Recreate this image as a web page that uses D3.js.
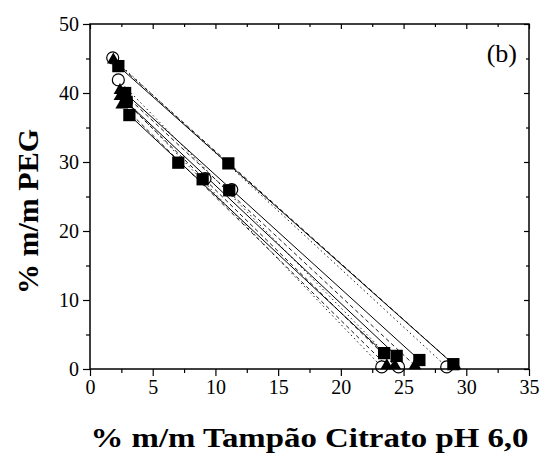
<!DOCTYPE html>
<html><head><meta charset="utf-8">
<script src="https://cdn.jsdelivr.net/npm/d3@7"></script>
<style>body{margin:0;background:#fff}svg{display:block}</style>
</head><body><div id="chart"></div>
<script>
// Tie lines: [top phase, (feed), bottom phase] as [x (% citrate), y (% PEG)]
const squareLines = [
  [[2.26,43.9],[11.03,29.8],[28.97,0.7]],
  [[2.80,40.0],[11.10,25.9],[26.26,1.3]],
  [[2.92,38.7],[8.98,27.5],[24.45,1.9]],
  [[3.14,36.8],[7.04,29.9],[23.45,2.3]]
];
const triangleLines = [
  [[1.86,44.8],[29.10,0.5]],
  [[2.39,40.4],[25.90,0.5]],
  [[2.39,39.5],[24.30,0.5]],
  [[2.53,38.3],[23.66,0.5]]
];
const circleLines = [
  [[1.81,45.1],[28.44,0.3]],
  [[2.26,41.9],[11.30,26.0],[24.60,0.3]],
  [[2.90,38.8],[9.17,27.6],[23.26,0.3]]
];
const xTicks = [0,5,10,15,20,25,30,35];
const yTicks = [0,10,20,30,40,50];
const xTitle = "% m/m Tampão Citrato pH 6,0";
const yTitle = "% m/m PEG";
const panelLabel = "(b)";

const W = 545, H = 456;
const m = {left:90, right:16, top:24, bottom:87};
const svg = d3.select("#chart").append("svg").attr("width",W).attr("height",H);
const x = d3.scaleLinear().domain([0,35]).range([m.left, W-m.right]);
const y = d3.scaleLinear().domain([0,50]).range([H-m.bottom, m.top]);
const font = "Liberation Serif";

const line = d3.line().x(d=>x(d[0])).y(d=>y(d[1]));
function ends(l){ return [l[0], l[l.length-1]]; }

const g = svg.append("g");
g.selectAll(".lc").data(circleLines).join("path").attr("d",d=>line(ends(d)))
  .attr("fill","none").attr("stroke","#000").attr("stroke-width",0.9).attr("stroke-dasharray","1.5,3");
g.selectAll(".lt").data(triangleLines).join("path").attr("d",d=>line(ends(d)))
  .attr("fill","none").attr("stroke","#000").attr("stroke-width",0.9).attr("stroke-dasharray","4,3");
g.selectAll(".ls").data(squareLines).join("path").attr("d",d=>line(ends(d)))
  .attr("fill","none").attr("stroke","#000").attr("stroke-width",1);

const cPts = circleLines.flat(), tPts = triangleLines.flat(), sPts = squareLines.flat();
g.selectAll(".pc").data(cPts).join("circle").attr("cx",d=>x(d[0])).attr("cy",d=>y(d[1]))
  .attr("r",6).attr("fill","#fff").attr("stroke","#000").attr("stroke-width",1.2);
const tri = d3.symbol().type(d3.symbolTriangle).size(70);
g.selectAll(".pt").data(tPts).join("path").attr("d",tri)
  .attr("transform",d=>`translate(${x(d[0])},${y(d[1])})`).attr("fill","#000");
const sq = d3.symbol().type(d3.symbolSquare).size(150);
g.selectAll(".ps").data(sPts).join("path").attr("d",sq)
  .attr("transform",d=>`translate(${x(d[0])},${y(d[1])})`).attr("fill","#000");

const xMinor = d3.range(0,35.01,2.5), yMinor = d3.range(0,50.01,5);
function tickG(axisFn, scale, vals, size, labels, tx, ty){
  const a = axisFn(scale).tickValues(vals).tickSize(size).tickPadding(4);
  if(!labels) a.tickFormat(""); else a.tickFormat(d3.format("d"));
  const gg = svg.append("g").attr("transform",`translate(${tx},${ty})`).call(a);
  gg.select(".domain").remove();
  gg.attr("font-family",font).attr("font-size",20);
  gg.selectAll("line").attr("stroke","#000").attr("stroke-width",1.2);
  gg.selectAll("text").attr("fill","#000").attr("font-family",font).attr("font-size",20);
  return gg;
}
tickG(d3.axisBottom, x, xTicks, 7, true, 0, y(0));
tickG(d3.axisBottom, x, xMinor.filter(v=>v%5), 4, false, 0, y(0));
tickG(d3.axisLeft, y, yTicks, 7, true, x(0), 0);
tickG(d3.axisLeft, y, yMinor.filter(v=>v%10), 4, false, x(0), 0);
tickG(d3.axisBottom, x, xTicks, 5, false, 0, y(50));
tickG(d3.axisBottom, x, xMinor.filter(v=>v%5), 3, false, 0, y(50));
tickG(d3.axisLeft, y, yTicks, 5, false, x(35), 0);
tickG(d3.axisLeft, y, yMinor.filter(v=>v%10), 3, false, x(35), 0);

svg.append("rect").attr("x",x(0)).attr("y",y(50)).attr("width",x(35)-x(0)).attr("height",y(0)-y(50))
  .attr("fill","none").attr("stroke","#000").attr("stroke-width",1.5);

svg.append("text").attr("x",x(35)-12).attr("y",y(50)+38).attr("text-anchor","end")
  .attr("font-family",font).attr("font-size",26).text(panelLabel);
svg.append("text").attr("x",(x(0)+x(35))/2).attr("y",447).attr("text-anchor","middle")
  .attr("font-family",font).attr("font-weight","bold").attr("font-size",28)
  .attr("textLength",438).attr("lengthAdjust","spacingAndGlyphs").text(xTitle);
svg.append("text").attr("transform",`translate(38,${(y(0)+y(50))/2+15}) rotate(-90)`)
  .attr("text-anchor","middle").attr("font-family",font).attr("font-weight","bold").attr("font-size",30)
  .text(yTitle);
</script></body></html>
